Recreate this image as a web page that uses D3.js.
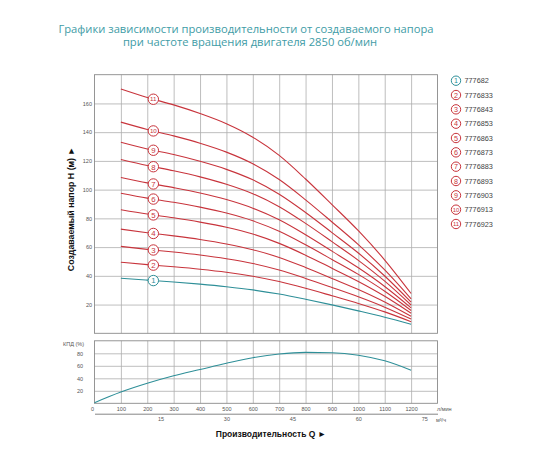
<!DOCTYPE html>
<html>
<head>
<meta charset="utf-8">
<script src="https://cdn.jsdelivr.net/npm/d3@7"></script>
<style>
  body { margin: 0; background: #fff; }
  svg { display: block; }
  .grid line { stroke: #adadad; stroke-width: 0.8; }
  .grid path { display: none; }
  .tick-lbl text { font-family: "Liberation Sans", Arial, sans-serif; font-size: 5.5px; fill: #555; }
</style>
</head>
<body>
<svg width="560" height="460"></svg>
<script>
// flow points, l/min
const Q = [100, 200, 300, 400, 500, 600, 700, 800, 900, 1000, 1100, 1200]

// head H (m) for each pump
const H1 = [38.3, 37.0, 35.7, 34.2, 32.4, 30.2, 27.3, 23.7, 19.8, 15.6, 11.2, 6.3]
const H2 = [49.5, 47.8, 46.3, 44.6, 42.5, 39.7, 36.0, 31.3, 26.1, 20.8, 14.9, 8.1]
const H3 = [60.5, 58.4, 56.6, 54.5, 51.9, 48.6, 44.0, 38.2, 31.9, 25.4, 18.2, 9.9]
const H4 = [72.5, 70.0, 67.8, 65.3, 62.2, 58.2, 52.8, 45.8, 38.2, 30.5, 21.8, 11.8]
const H5 = [86.0, 83.0, 80.4, 77.4, 73.8, 69.1, 62.6, 54.4, 45.3, 36.1, 25.8, 14.0]
const H6 = [97.5, 94.1, 91.2, 87.8, 83.7, 78.3, 71.0, 61.6, 51.4, 41.0, 29.3, 15.9]
const H7 = [108.5, 104.7, 101.4, 97.7, 93.1, 87.1, 79.0, 68.6, 57.2, 45.6, 32.6, 17.7]
const H8 = [121.0, 116.8, 113.1, 108.9, 103.8, 97.2, 88.1, 76.5, 63.8, 50.8, 36.3, 19.7]
const H9 = [133.0, 128.3, 124.4, 119.7, 114.1, 106.8, 96.8, 84.1, 70.1, 55.9, 39.9, 21.7]
const H10 = [147.0, 141.9, 137.4, 132.3, 126.1, 118.0, 107.0, 92.9, 77.5, 61.7, 44.1, 24.0]
const H11 = [170.0, 164.1, 159.0, 153.0, 145.9, 136.5, 123.8, 107.4, 89.6, 71.4, 51.0, 27.7]
const heads = [H1, H2, H3, H4, H5, H6, H7, H8, H9, H10, H11]
const models = ['777682', '7776833', '7776843', '7776853', '7776863', '7776873',
  '7776883', '7776893', '7776903', '7776913', '7776923']

// efficiency (%)
const qEff = [0, 100, 200, 300, 400, 500, 600, 700, 800, 900, 1000, 1100, 1200]
const eff = [1, 18, 32, 44, 54, 64, 73, 79, 81.5, 81, 77, 68, 53]

const hTicks = [20, 40, 60, 80, 100, 120, 140, 160]
const effTicks = [20, 40, 60, 80]
const qTicks = [0, 100, 200, 300, 400, 500, 600, 700, 800, 900, 1000, 1100, 1200]
const m3Ticks = [15, 30, 45, 60, 75]
const labelQ = 223

const red = '#c8343c'
const teal = '#2e8f98'

const svg = d3.select('svg')

const x = d3.scaleLinear().domain([0, 1300]).range([94.5, 437.5])
const xm3 = d3.scaleLinear().domain([0, 78]).range([94.5, 437.5])
const yH = d3.scaleLinear().domain([0, 180]).range([333.3, 74.7])
const yE = d3.scaleLinear().domain([0, 100]).range([403.3, 340.8])

// title
const title = svg.append('g')
  .attr('font-family', '"Open Sans", sans-serif')
  .attr('font-size', 11.2)
  .attr('fill', '#3e9ca6')
  .attr('text-anchor', 'middle')
title.append('text').attr('x', 246).attr('y', 33)
  .text('Графики зависимости производительности от создаваемого напора')
title.append('text').attr('x', 250).attr('y', 46)
  .text('при частоте вращения двигателя 2850 об/мин')

// grids
function grids(yScale, yt) {
  svg.append('g').attr('class', 'grid')
    .attr('transform', `translate(0,${yScale.range()[0]})`)
    .call(d3.axisBottom(x).tickValues(qTicks.slice(1)).tickSize(yScale.range()[1] - yScale.range()[0]).tickFormat(''))
  svg.append('g').attr('class', 'grid')
    .attr('transform', `translate(${x.range()[0]},0)`)
    .call(d3.axisLeft(yScale).tickValues(yt).tickSize(x.range()[0] - x.range()[1]).tickFormat(''))
  svg.append('rect')
    .attr('x', x.range()[0]).attr('y', yScale.range()[1])
    .attr('width', x.range()[1] - x.range()[0])
    .attr('height', yScale.range()[0] - yScale.range()[1])
    .attr('fill', 'none').attr('stroke', '#8a8a8a').attr('stroke-width', 0.9)
}
grids(yH, hTicks)
grids(yE, effTicks)

// tick labels
svg.append('g').attr('class', 'tick-lbl')
  .attr('transform', 'translate(92,0)')
  .call(d3.axisLeft(yH).tickValues(hTicks).tickSize(0).tickPadding(0))
  .select('.domain').remove()
svg.append('g').attr('class', 'tick-lbl')
  .attr('transform', 'translate(83,0)')
  .call(d3.axisLeft(yE).tickValues(effTicks).tickSize(0).tickPadding(0))
  .select('.domain').remove()
const qAxis = svg.append('g').attr('class', 'tick-lbl')
  .attr('transform', 'translate(0,404)')
  .call(d3.axisBottom(x).tickValues(qTicks).tickSize(0).tickPadding(3).tickFormat(d3.format('d')))
qAxis.select('.domain').remove()
qAxis.selectAll('.tick').filter(d => d === 0).select('text').attr('dx', -2.5)

const m3Axis = svg.append('g').attr('class', 'tick-lbl')
  .attr('transform', 'translate(0,413.7)')
  .call(d3.axisBottom(xm3).tickValues(m3Ticks).tickSize(0).tickPadding(3.5))
m3Axis.select('.domain').attr('stroke', '#666').attr('stroke-width', 0.8)

const small = svg.append('g')
  .attr('font-family', '"Liberation Sans", Arial, sans-serif')
  .attr('font-size', 5.5).attr('fill', '#555')
small.append('text').attr('x', 437).attr('y', 411).text('л/мин')
small.append('text').attr('x', 436).attr('y', 422).text('м³/ч')
small.append('text').attr('x', 63).attr('y', 346).text('КПД (%)')

// curves
const line = d3.line()
  .x(d => x(d[0]))
  .y(d => yH(d[1]))
  .curve(d3.curveMonotoneX)

heads.forEach((h, i) => {
  svg.append('path')
    .attr('d', line(Q.map((q, j) => [q, h[j]])))
    .attr('fill', 'none')
    .attr('stroke', i === 0 ? teal : red)
    .attr('stroke-width', 1.1)
})

// number markers on curves
heads.forEach((h, i) => {
  const at = d3.scaleLinear().domain(Q).range(h)
  const c = i === 0 ? teal : red
  const g = svg.append('g')
    .attr('transform', `translate(${x(labelQ)},${yH(at(labelQ))})`)
  g.append('circle').attr('r', 5.2).attr('fill', '#fff').attr('stroke', c).attr('stroke-width', 1)
  g.append('text')
    .attr('text-anchor', 'middle').attr('dy', '0.36em')
    .attr('font-family', '"Liberation Sans", Arial, sans-serif')
    .attr('font-size', i >= 9 ? 6.2 : 7.8)
    .attr('fill', c)
    .text(i + 1)
})

// efficiency curve
const effLine = d3.line()
  .x(d => x(d[0]))
  .y(d => yE(d[1]))
  .curve(d3.curveMonotoneX)
svg.append('path')
  .attr('d', effLine(qEff.map((q, j) => [q, eff[j]])))
  .attr('fill', 'none').attr('stroke', teal).attr('stroke-width', 1.1)

// legend
const leg = svg.append('g').attr('transform', 'translate(456,80.7)')
models.forEach((m, i) => {
  const c = i === 0 ? teal : red
  const row = leg.append('g').attr('transform', `translate(0,${i * 14.33})`)
  row.append('circle').attr('r', 4.7).attr('fill', '#fff').attr('stroke', c).attr('stroke-width', 1)
  row.append('text')
    .attr('text-anchor', 'middle').attr('dy', '0.36em')
    .attr('font-family', '"Liberation Sans", Arial, sans-serif')
    .attr('font-size', i >= 9 ? 5.8 : 7.2)
    .attr('fill', c)
    .text(i + 1)
  row.append('text')
    .attr('x', 8.5).attr('dy', '0.36em')
    .attr('font-family', '"Liberation Sans", Arial, sans-serif')
    .attr('font-size', 7.3).attr('fill', '#444')
    .text(m)
})

// axis titles
svg.append('text')
  .attr('transform', 'translate(74,209) rotate(-90)')
  .attr('text-anchor', 'middle')
  .attr('font-family', '"Liberation Sans", Arial, sans-serif')
  .attr('font-weight', 'bold').attr('font-size', 8.8).attr('fill', '#111')
  .text('Создаваемый напор Н (м) ►')
svg.append('text')
  .attr('x', 271).attr('y', 437)
  .attr('text-anchor', 'middle')
  .attr('font-family', '"Liberation Sans", Arial, sans-serif')
  .attr('font-weight', 'bold').attr('font-size', 8.5).attr('fill', '#111')
  .text('Производительность Q ►')
</script>
</body>
</html>
